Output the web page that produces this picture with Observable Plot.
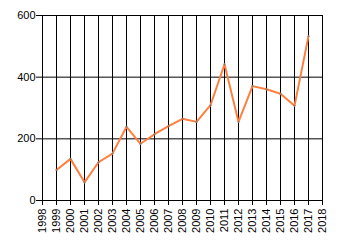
<!DOCTYPE html>
<html><head><meta charset="utf-8">
<script src="https://cdn.jsdelivr.net/npm/d3@7"></script>
<script src="https://cdn.jsdelivr.net/npm/@observablehq/plot@0.6"></script>
<style>body{margin:0;background:#fff;}svg{display:block;}</style>
</head><body><div id="chart"></div>
<script>
const years = [1999,2000,2001,2002,2003,2004,2005,2006,2007,2008,2009,2010,2011,2012,2013,2014,2015,2016,2017];
const values = [99,135,59,124,152,239,184,215,241,265,255,309,442,255,371,361,346,307,533];
const xTicks = d3.range(1998, 2019);
const yTicks = [0,200,400,600];
const data = years.map((y,i)=>({year:y, value:values[i]}));
const chart = Plot.plot({
  width: 340, height: 245,
  marginLeft: 42, marginRight: 18, marginTop: 15, marginBottom: 45,
  style: {fontFamily: "'Liberation Sans', Arial, sans-serif", fontSize: "11px", color: "#000", background: "#fff"},
  x: {domain: [1998, 2018], label: null},
  y: {domain: [0, 600], label: null},
  marks: [
    Plot.gridX(xTicks, {stroke: "#000", strokeOpacity: 1, strokeWidth: 1}),
    Plot.gridY(yTicks, {stroke: "#000", strokeOpacity: 1, strokeWidth: 1}),
    Plot.axisY(yTicks, {tickSize: 6, tickPadding: 1, tickFormat: d => String(d), stroke: "#000"}),
    Plot.axisX(xTicks, {tickSize: 5, tickPadding: 3, tickRotate: -90, tickFormat: d => String(d), stroke: "#000"}),
    Plot.ruleX([1998], {stroke: "#000"}),
    Plot.ruleY([0], {stroke: "#000"}),
    Plot.line(data, {x: "year", y: "value", stroke: "#ff7f3f", strokeWidth: 2}),
    Plot.dot(data, {x: "year", y: "value", r: 1, fill: "#777", stroke: "none"})
  ]
});
document.getElementById("chart").appendChild(chart);
</script></body></html>
